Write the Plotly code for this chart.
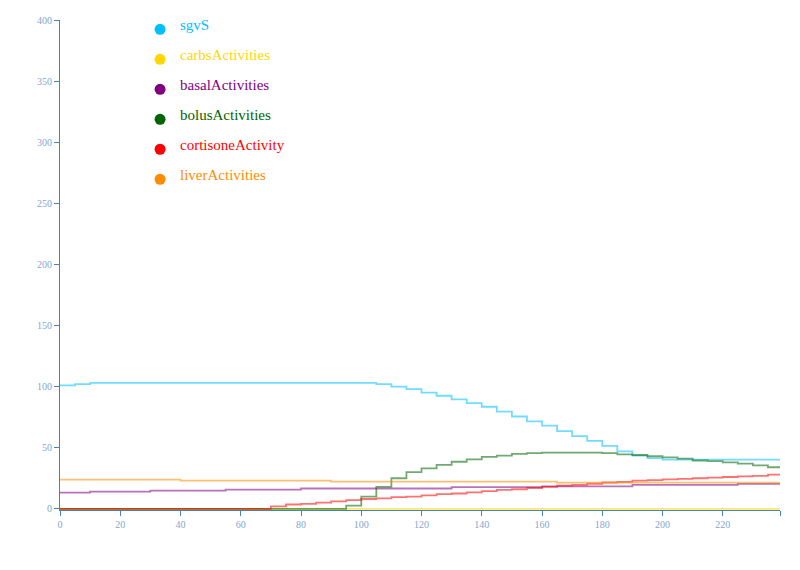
import plotly.graph_objects as go

# minutes since start (5-min samples, last one at the end of the window)
TIMES = [0, 5, 10, 15, 20, 25, 30, 35, 40, 45, 50, 55, 60, 65, 70, 75, 80, 85,
         90, 95, 100, 105, 110, 115, 120, 125, 130, 135, 140, 145, 150, 155,
         160, 165, 170, 175, 180, 185, 190, 195, 200, 205, 210, 215, 220, 225,
         230, 235, 239]

SGV_S = [101, 102, 103, 103, 103, 103, 103, 103, 103, 103, 103, 103, 103, 103,
         103, 103, 103, 103, 103, 103, 103, 102, 100, 98, 95, 92.5, 89.5, 86.5,
         83.5, 79.5, 75.5, 71.5, 68, 63.5, 59.5, 55.5, 51.5, 47, 43.5, 41.5, 40.3,
         40.3, 40.3, 40.3, 40.3, 40.3, 40.3, 40.3, 40.3]

CARBS = [0] * 49  # no carb activity in this window

BASAL = [13.2, 13.2, 14, 14, 14, 14, 14.8, 14.8, 14.8, 14.8, 14.8, 15.6, 15.6,
         15.6, 15.6, 15.6, 16.6, 16.6, 16.6, 16.6, 16.6, 16.6, 16.6, 16.6, 16.6,
         16.6, 17.8, 17.8, 17.8, 17.8, 17.8, 17.8, 18.3, 18.3, 18.3, 18.3, 18.3,
         18.3, 19.6, 19.6, 19.6, 19.6, 19.6, 19.6, 19.6, 20.4, 20.4, 20.4, 20.4]

BOLUS = [0, 0, 0, 0, 0, 0, 0, 0, 0, 0, 0, 0, 0, 0, 0, 0, 0, 0, 0, 2.5, 10, 18,
         25, 30, 33, 36, 38.5, 40.5, 42.5, 43.5, 45, 45.5, 46, 46, 46, 46, 45.5,
         44.5, 44, 43, 42, 41, 39.5, 39, 38, 37, 35.5, 34, 34]

CORTISONE = [0, 0, 0, 0, 0, 0, 0, 0, 0, 0, 0, 0, 0, 0, 2, 3.5, 4, 5, 6, 7, 8,
             8.5, 9.5, 10, 11, 12, 12.5, 13.5, 14.5, 15.5, 16, 17, 18, 19, 19.5,
             20.5, 21.5, 22, 23, 23.5, 24, 24.5, 25, 25.5, 26, 26.5, 27, 28, 28]

LIVER = [23.9, 23.9, 23.9, 23.9, 23.9, 23.9, 23.9, 23.9, 23, 23, 23, 23, 23, 23,
         23, 23, 23, 23, 22.2, 22.2, 22.2, 22.2, 22.2, 22.2, 22.2, 22.2, 22.2,
         22.2, 22.2, 22.2, 22.2, 22.2, 22.2, 21.4, 21.4, 21.4, 21.4, 21.4, 21.4,
         21.4, 21.4, 21.4, 21.4, 21.4, 21.4, 21.4, 21.4, 21.4, 21.4]

SERIES = [
    ("sgvS", SGV_S, "deepskyblue"),
    ("carbsActivities", CARBS, "gold"),
    ("basalActivities", BASAL, "purple"),
    ("bolusActivities", BOLUS, "darkgreen"),
    ("cortisoneActivity", CORTISONE, "red"),
    ("liverActivities", LIVER, "darkorange"),
]

X_TICKS = [0, 20, 40, 60, 80, 100, 120, 140, 160, 180, 200, 220, 239]
X_LABELS = ["0", "20", "40", "60", "80", "100", "120", "140", "160", "180",
            "200", "220", ""]

AXIS = "#4682b4"
TICK_TXT = "#7fa7cf"
SERIF = "Liberation Serif, Times New Roman, serif"

fig = go.Figure()
for name, vals, col in SERIES:
    fig.add_trace(go.Scatter(x=TIMES, y=vals, name=name, mode="lines",
                             line=dict(color=col, width=1.8, shape="hv"),
                             opacity=0.55, showlegend=False))

# hand-made legend: coloured dot + coloured label, top left
for i, (name, _, col) in enumerate(SERIES):
    yc = 0.981 - i * 0.0612
    fig.add_shape(type="circle", xref="paper", yref="paper",
                  xsizemode="pixel", ysizemode="pixel",
                  xanchor=0.139, yanchor=yc, x0=-5.5, x1=5.5, y0=-5.5, y1=5.5,
                  fillcolor=col, line=dict(width=0))
    fig.add_annotation(x=0.164, y=yc + 0.008, xref="paper", yref="paper",
                       text=name, showarrow=False, xanchor="left",
                       yanchor="middle",
                       font=dict(family=SERIF, size=15, color=col))

# page body adds 8px, so margins are trimmed on the top/left side
fig.update_layout(
    width=800, height=570,
    margin=dict(l=52, r=28, t=12, b=68, autoexpand=False),
    plot_bgcolor="white", paper_bgcolor="white",
    font=dict(family=SERIF),
    xaxis=dict(range=[0, 239], tickvals=X_TICKS, ticktext=X_LABELS,
               showline=True, linecolor=AXIS, linewidth=1,
               ticks="outside", ticklen=5, tickcolor=AXIS,
               tickfont=dict(family=SERIF, size=10, color=TICK_TXT),
               showgrid=False, zeroline=False, layer="below traces"),
    yaxis=dict(range=[-1, 400], tickvals=[0, 50, 100, 150, 200, 250, 300, 350, 400],
               showline=True, linecolor=AXIS, linewidth=1,
               ticks="outside", ticklen=5, tickcolor=AXIS,
               tickfont=dict(family=SERIF, size=10, color=TICK_TXT),
               showgrid=False, zeroline=False, layer="below traces"),
)

fig.write_html("out.html")
